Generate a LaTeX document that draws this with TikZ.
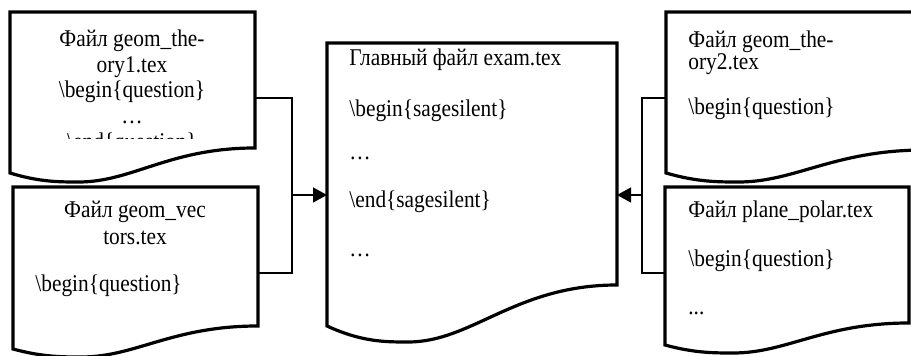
\documentclass[tikz,border=0pt]{standalone}
\usepackage{fontspec}
\usepackage{graphicx}
\setmainfont{Liberation Serif}
\usetikzlibrary{arrows.meta}
% #1 L, #2 T, #3 R, #4 left bottom, #5 right bottom, #6 dip
\newcommand\docpath[6]{%
  \draw[docline] (#1,#2) -- (#3,#2) -- (#3,#5)
    .. controls ({#1+0.65*(#3-#1)},#5) and ({#1+0.5*(#3-#1)},{#4+#6}) .. ({#1+0.28*(#3-#1)},{#4+#6})
    .. controls ({#1+0.2*(#3-#1)},{#4+#6}) and ({#1+0.12*(#3-#1)},{#4+#6}) .. (#1,#4) -- cycle;}
\newcommand\sqz[1]{\scalebox{0.89}[1]{#1}}
\begin{document}
\begin{tikzpicture}[x=0.5pt,y=-0.5pt,
  docline/.style={line width=1.6pt, line join=miter, fill=white},
  conn/.style={line width=0.6pt},
  arr/.style={conn,-{Triangle[length=7pt,width=7.5pt]}},
  txt/.style={inner sep=0pt, font=\fontsize{12}{14}\selectfont},
  ctxt/.style={txt, anchor=base},
  ltxt/.style={txt, anchor=base west}]
\clip (0,0) rectangle (911,356);
\fill[white] (0,0) rectangle (911,356);
% documents
\docpath{10}{12}{255}{173}{148}{9}
\docpath{13}{187}{258}{349}{326}{8}
\docpath{327}{43}{617}{326}{285}{16}
\docpath{666}{12}{925}{173}{150}{9}
\docpath{665}{187}{909}{345}{323}{8}
% text A (clipped)
\begin{scope}
\clip (10,12) rectangle (255,139);
\node[ctxt] (a1) at (132,47) {\sqz{Файл geom\_the-}};
\node[ctxt] (a2) at (132,72.5) {\sqz{ory1.tex}};
\node[ctxt] (a3) at (132,98) {\sqz{\textbackslash begin\{question\}}};
\node[ctxt] (a4) at (132,123.5) {\sqz{…}};
\node[ctxt] (a5) at (132,150) {\sqz{\textbackslash end\{question\}}};
\end{scope}
% text B
\node[ctxt] (b1) at (135,218) {\sqz{Файл geom\_vec}};
\node[ctxt] (b2) at (135,245) {\sqz{tors.tex}};
\node[ltxt] (b3) at (35,292) {\sqz{\textbackslash begin\{question\}}};
% text M
\node[ltxt] (m1) at (349,66) {\sqz{Главный файл exam.tex}};
\node[ltxt] (m2) at (349,117) {\sqz{\textbackslash begin\{sagesilent\}}};
\node[ltxt] (m3) at (349,160) {\sqz{…}};
\node[ltxt] (m4) at (349,208) {\sqz{\textbackslash end\{sagesilent\}}};
\node[ltxt] (m5) at (349,257) {\sqz{…}};
% text C
\node[ltxt] (c1) at (688,48) {\sqz{Файл geom\_the-}};
\node[ltxt] (c2) at (688,70) {\sqz{ory2.tex}};
\node[ltxt] (c3) at (688,115) {\sqz{\textbackslash begin\{question\}}};
% text D
\node[ltxt] (d1) at (688,218) {\sqz{Файл plane\_polar.tex}};
\node[ltxt] (d2) at (688,267) {\sqz{\textbackslash begin\{question\}}};
\node[ltxt] (d3) at (688,315) {\sqz{...}};
% connectors
\coordinate (Aout) at (255,98);
\coordinate (Bout) at (258,273);
\coordinate (Lj) at (292,195);
\coordinate (Min) at (327,195);
\coordinate (Mout) at (617,195);
\coordinate (Rj) at (642,195);
\coordinate (Cout) at (666,98);
\coordinate (Dout) at (665,273);
\draw[conn] (Aout) -| (Lj);
\draw[conn] (Bout) -| (Lj);
\draw[arr] (Lj) -- (Min);
\draw[conn] (Cout) -| (Rj);
\draw[conn] (Dout) -| (Rj);
\draw[arr] (Rj) -- (Mout);
\end{tikzpicture}
\end{document}
